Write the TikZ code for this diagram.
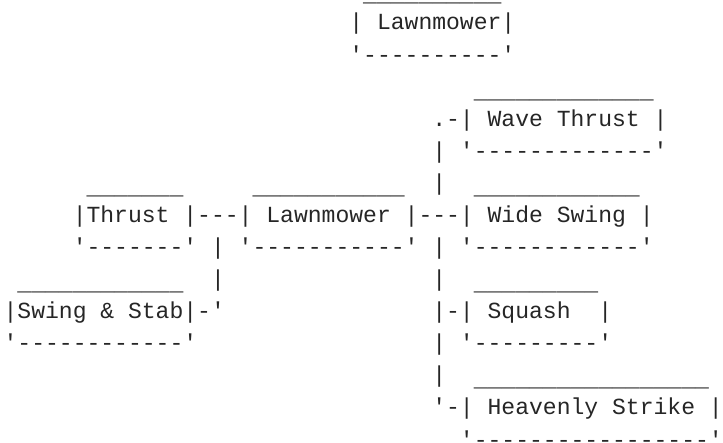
\documentclass[tikz,border=0pt]{standalone}
\usepackage{fontspec}
\setmonofont{Liberation Mono}
\definecolor{ink}{gray}{0.15}
\tikzset{
  seg/.style={anchor=base west, inner sep=0pt, outer sep=0pt, text=ink,
    font=\ttfamily\fontsize{23.05pt}{32pt}\selectfont},
  useg/.style={seg, yshift=-4pt}
}
\newcommand\segm[4]{\node[seg] (#1) at ({3.6+13.83*#2},{-2.08+32.08*#3}) {#4};}
\newcommand\usegm[4]{\node[useg] (#1) at ({3.6+13.83*#2},{-2.08+32.08*#3}) {#4};}
\begin{document}
\begin{tikzpicture}[x=1pt,y=-1pt]
\useasboundingbox (0,0) rectangle (723,443);
% top Lawnmower
\usegm{topU}{26}{0}{\_\_\_\_\_\_\_\_\_\_}
\segm{topM}{25}{1}{| Lawnmower|}
\segm{topB}{25}{2}{'----------'}
% Wave Thrust
\usegm{waveU}{34}{3}{\_\_\_\_\_\_\_\_\_\_\_\_\_}
\segm{waveM}{31}{4}{.-| Wave Thrust |}
\segm{vA}{31}{5}{|}
\segm{waveB}{33}{5}{'-------------'}
% row 6
\usegm{thrU}{6}{6}{\_\_\_\_\_\_\_}
\usegm{lawnU}{18}{6}{\_\_\_\_\_\_\_\_\_\_\_}
\segm{vB}{31}{6}{|}
\usegm{wideU}{34}{6}{\_\_\_\_\_\_\_\_\_\_\_\_}
% main row
\segm{mainM}{5}{7}{|Thrust |---| Lawnmower |---| Wide Swing |}
\segm{thrB}{5}{8}{'-------'}
\segm{vC}{15}{8}{|}
\segm{lawnB}{17}{8}{'-----------'}
\segm{vD}{31}{8}{|}
\segm{wideB}{33}{8}{'------------'}
% row 9
\usegm{swU}{1}{9}{\_\_\_\_\_\_\_\_\_\_\_\_}
\segm{vE}{15}{9}{|}
\segm{vF}{31}{9}{|}
\usegm{sqU}{34}{9}{\_\_\_\_\_\_\_\_\_}
% Swing & Stab / Squash
\segm{swM}{0}{10}{|Swing \& Stab|-'}
\segm{sqM}{31}{10}{|-| Squash}
\segm{sqR}{43}{10}{|}
\segm{swB}{0}{11}{'------------'}
\segm{vG}{31}{11}{|}
\segm{sqB}{33}{11}{'---------'}
% Heavenly Strike
\segm{vH}{31}{12}{|}
\usegm{hvU}{34}{12}{\_\_\_\_\_\_\_\_\_\_\_\_\_\_\_\_\_}
\segm{hvM}{31}{13}{'-| Heavenly Strike |}
\segm{hvB}{33}{14}{'-----------------'}
\end{tikzpicture}
\end{document}
